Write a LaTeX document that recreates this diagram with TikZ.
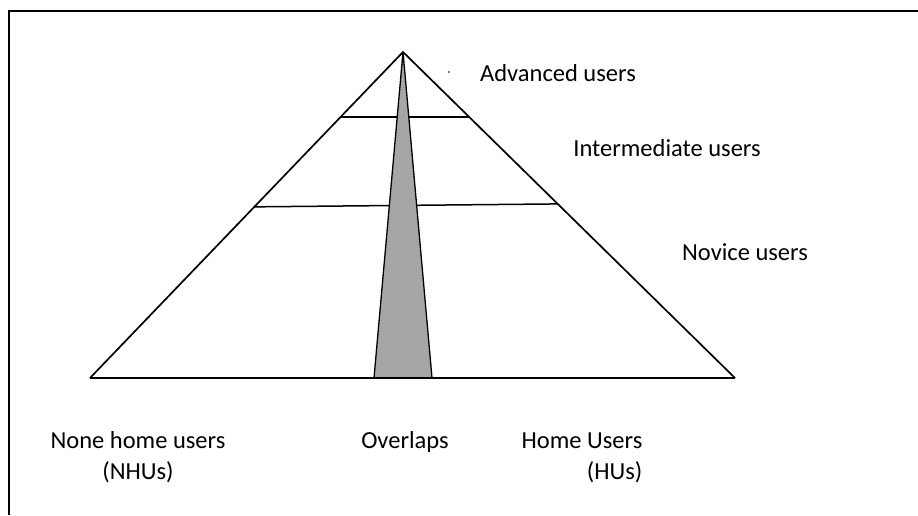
\documentclass[tikz,border=0pt]{standalone}
\usepackage{fontspec}
\setmainfont{Carlito}
\usetikzlibrary{calc}

\begin{document}
\begin{tikzpicture}[x=1pt,y=-1pt,
  side/.style={line width=1.7pt,line join=miter},
  level/.style={line width=1.5pt},
  lbl/.style={font=\fontsize{24.5}{31}\selectfont,inner sep=0pt,anchor=base}]
  \useasboundingbox (0,0) rectangle (918,515);
  % Frame (only top and left edges show)
  \draw[line width=2.4pt] (9,515) -- (9,11) -- (918,11);
  % Pyramid corners
  \coordinate (apex) at (403,52);
  \coordinate (bl) at (90,378);
  \coordinate (br) at (735,378);
  % Level lines
  \draw[level] ($(apex)!0.2!(bl)$) -- ($(apex)!0.2!(br)$);
  \draw[level] ($(apex)!0.475!(bl)$) -- ($(apex)!0.466!(br)$);
  % Sides
  \draw[side] (bl) -- (apex) -- (br);
  % Overlap wedge
  \coordinate (ovl) at (374,378);
  \coordinate (ovr) at (432,378);
  \filldraw[fill=black!35,line width=1.3pt] (apex) -- (ovl) -- (ovr) -- cycle;
  % Base
  \draw[line width=2.8pt] (bl) -- (br);
  \fill (449,72) circle (0.8pt);
  % Level labels
  \node[lbl] (adv) at (558,81) {Advanced users};
  \node[lbl] (inter) at (667,156) {Intermediate users};
  \node[lbl] (nov) at (745,260) {Novice users};
  % Group labels
  \node[lbl,align=center] (nhu) at (138,479) {None home users\\(NHUs)};
  \node[lbl] (ovlap) at (405,448) {Overlaps};
  \node[lbl,align=right] (hu) at (582,479) {Home Users\\(HUs)};
\end{tikzpicture}
\end{document}
